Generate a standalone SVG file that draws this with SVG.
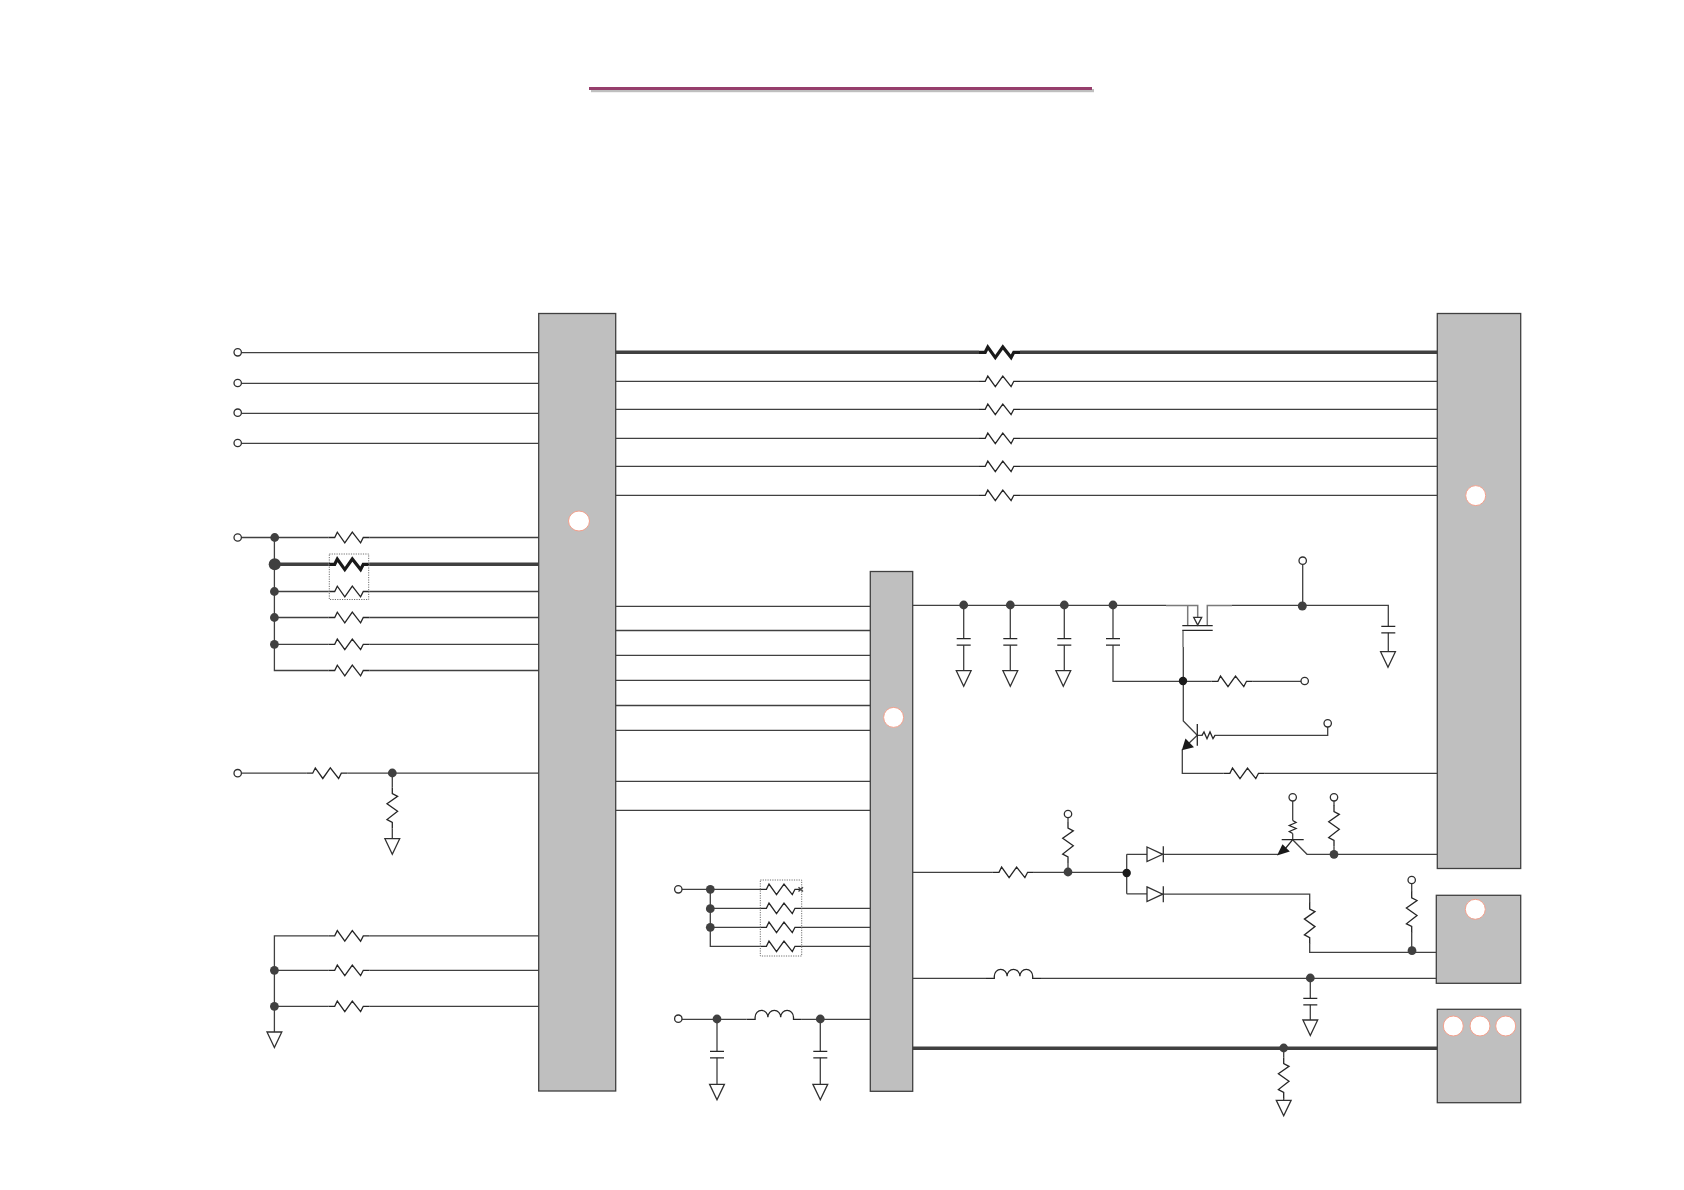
<svg xmlns="http://www.w3.org/2000/svg" width="1684" height="1190" viewBox="0 0 1684 1190">
<style>
.w{fill:none;stroke:#404040;stroke-width:1.3}
.t{fill:none;stroke:#404040;stroke-width:3.4}
.g{fill:none;stroke:#7a7a7a;stroke-width:1.5}
.b{fill:#bfbfbf;stroke:#404040;stroke-width:1.3}
.l{fill:#fff;stroke:#f4a08c;stroke-width:1}
.h{fill:#fff;stroke:#303030;stroke-width:1.3}
.d{fill:#404040}
.k{fill:#1a1a1a}
.s{fill:none;stroke:#262626;stroke-width:1.3;stroke-linejoin:miter}
.st{fill:none;stroke:#1a1a1a;stroke-width:3.2}
.box{fill:none;stroke:#707070;stroke-width:1;stroke-dasharray:1.2 1.2}
</style>
<defs>
<path id="res" d="M-20.5,0H-14.3L-11.7,-5.3L-4.2,5.3L3.3,-5.3L11.6,5.3L14.3,0H20.5"/>
<path id="rsm" d="M-7,0L-5,-3.4L-2,3.4L1,-3.4L4,3.4L6,0"/>
<path id="ind" d="M-27.5,0H-19.2V-2A6.4,7 0 0 1 -6.4,-2A6.4,7 0 0 1 6.4,-2A6.4,7 0 0 1 19.2,-2V0H27.5"/>
<path id="cap" d="M-7,0H7M-7,6.5H7"/>
<path id="gnd" d="M-7.4,0H7.4L0,15.5Z"/>
<path id="dio" d="M0,-7.3L15.7,0L0,7.3ZM16.3,-8V8"/>
</defs>
<rect width="1684" height="1190" fill="#fff"/>
<g id="title-rule">
<rect x="591" y="89" width="503" height="3.2" fill="#bfbfbf"/>
<rect x="589" y="87" width="503" height="3" fill="#963e6c"/>
</g>
<g id="connectors">
<path class="w" d="M241.4,352.7H539M241.4,383.3H539M241.4,413.3H539M241.4,443.3H539"/>
<path class="t" d="M616,352.3H979M1020,352.3H1437"/>
<path class="w" d="M616,381.3H979M1020,381.3H1437M616,409.3H979M1020,409.3H1437M616,438.3H979M1020,438.3H1437M616,466.3H979M1020,466.3H1437M616,495.3H979M1020,495.3H1437"/>
<path class="w" d="M241.4,537.5H328.5M369.5,537.5H539M274.4,537.5V670.5H328.5M369.5,670.5H539M274.4,591.5H328.5M369.5,591.5H539M274.4,617.5H328.5M369.5,617.5H539M274.4,644.3H328.5M369.5,644.3H539"/>
<path class="t" d="M274.4,564.3H328.5M369.5,564.3H539"/>
<path class="w" d="M241.4,773.2H306.5M347.5,773.2H539M392.3,773.2V787.5M392.3,828.5V838.7"/>
<path class="w" d="M274.4,1032V935.9H328.5M369.5,935.9H539M274.4,970.3H328.5M369.5,970.3H539M274.4,1006.3H328.5M369.5,1006.3H539"/>
<path class="w" d="M616,606.4H870M616,630.5H870M616,655.4H870M616,680.3H870M616,705.5H870M616,730.4H870M616,781.3H870M616,810.4H870"/>
<path class="w" d="M682,889.3H760.2M710.3,889.3V946.3H760.2M710.3,908.3H760.2M710.3,927.3H760.2M801.2,908.3H870M801.2,927.3H870M801.2,946.3H870"/>
<path class="w" d="M682,1019.3H746.7M802,1019.3H870M717,1019.3V1051.3M717,1057.8V1084.3M820.3,1019.3V1051.3M820.3,1057.8V1084.3"/>
<path class="w" d="M912.7,605.3H1166M1232,605.3H1388.3V626.3M1388.3,632.8V651.7M1302.7,564.4V605.3"/>
<path class="w" d="M963.7,605.3V638.7M963.7,645.2V670.7M1010.3,605.3V638.7M1010.3,645.2V670.7M1064.3,605.3V638.7M1064.3,645.2V670.7M1113,605.3V638.7M1113,645.2V681.3H1211.7M1252.7,681.3H1301"/>
<path class="g" d="M1166,605.5H1187.7V625M1187.7,605.5H1197.7V618M1207.3,625V605.5H1232M1183,630.5V647"/>
<path class="w" d="M1183.3,647V721L1197.3,735.3L1186,746M1182.3,749.3V773.3H1223.7M1264.7,773.3H1437M1197.3,735.3H1202.5M1214.5,735.3H1327.7V727"/>
<path class="w" d="M912.7,872.3H992.8M1033.8,872.3H1126.7M1068,817.7V822M1068,863V872.3M1126.7,854.3V893.8M1126.7,854.3H1147M1126.7,893.8H1147"/>
<path class="w" d="M1163.3,854.3H1278M1292.7,839.7L1307,854.3H1437M1292.7,801V820.5M1292.7,833.5V839.7M1334,801V806M1334,846.5V854.3"/>
<path class="w" d="M1163.3,894.2H1309.7V903M1309.7,943.6V952.3H1436.3M1411.7,883.7V892M1411.7,932.5V951"/>
<path class="w" d="M912.7,978.3H986M1041,978.3H1436.3M1310.3,978.3V998.3M1310.3,1004.8V1020"/>
<path class="t" d="M912.7,1048.3H1437"/>
<path class="w" d="M1283.7,1048.3V1057.5M1283.7,1098.3V1100.3"/>
</g>
<g id="block-a"><rect class="b" x="538.7" y="313.5" width="77" height="777.5"/><ellipse class="l" cx="579" cy="521" rx="10.5" ry="10"/></g>
<g id="block-b"><rect class="b" x="870.3" y="571.5" width="42.4" height="519.8"/><circle class="l" cx="893.6" cy="717.4" r="10"/></g>
<g id="block-c"><rect class="b" x="1437.3" y="313.5" width="83.4" height="555"/><circle class="l" cx="1475.7" cy="495.6" r="10"/></g>
<g id="block-d"><rect class="b" x="1436.3" y="895.3" width="84.4" height="88"/><circle class="l" cx="1475.3" cy="909.3" r="10"/></g>
<g id="block-e"><rect class="b" x="1437.3" y="1009.3" width="83.4" height="93.4"/><circle class="l" cx="1453.3" cy="1026" r="10"/><circle class="l" cx="1480" cy="1026" r="10"/><circle class="l" cx="1505.7" cy="1026" r="10"/></g>
<g id="bus-resistors">
<use href="#res" class="st" x="999.5" y="352.3"/>
<use href="#res" class="s" x="999.5" y="381.3"/>
<use href="#res" class="s" x="999.5" y="409.3"/>
<use href="#res" class="s" x="999.5" y="438.3"/>
<use href="#res" class="s" x="999.5" y="466.3"/>
<use href="#res" class="s" x="999.5" y="495.3"/>
</g>
<g id="left-resistors">
<use href="#res" class="s" x="349" y="537.5"/>
<use href="#res" class="st" x="349" y="564.3"/>
<use href="#res" class="s" x="349" y="591.5"/>
<use href="#res" class="s" x="349" y="617.5"/>
<use href="#res" class="s" x="349" y="644.3"/>
<use href="#res" class="s" x="349" y="670.5"/>
<use href="#res" class="s" x="327" y="773.2"/>
<use href="#res" class="s" transform="translate(392.3,808) rotate(90)"/>
<use href="#res" class="s" x="349" y="935.9"/>
<use href="#res" class="s" x="349" y="970.3"/>
<use href="#res" class="s" x="349" y="1006.3"/>
<rect class="box" x="329.3" y="554" width="39.4" height="45.5"/>
</g>
<g id="input-resistors">
<use href="#res" class="s" x="780.7" y="889.3"/>
<use href="#res" class="s" x="780.7" y="908.3"/>
<use href="#res" class="s" x="780.7" y="927.3"/>
<use href="#res" class="s" x="780.7" y="946.3"/>
<path class="w" d="M798.5,887.3L803,891.5M798.5,891.5L803,887.3"/>
<rect class="box" x="760.3" y="880" width="41.4" height="76"/>
</g>
<g id="filter">
<use href="#ind" class="s" x="774.3" y="1019.3"/>
<use href="#cap" class="s" x="717" y="1051.3"/>
<use href="#cap" class="s" x="820.3" y="1051.3"/>
<use href="#gnd" class="h" x="717" y="1084.3"/>
<use href="#gnd" class="h" x="820.3" y="1084.3"/>
</g>
<g id="caps">
<use href="#cap" class="s" x="963.7" y="638.7"/>
<use href="#cap" class="s" x="1010.3" y="638.7"/>
<use href="#cap" class="s" x="1064.3" y="638.7"/>
<use href="#cap" class="s" x="1113" y="638.7"/>
<use href="#gnd" class="h" x="963.7" y="670.7"/>
<use href="#gnd" class="h" x="1010.3" y="670.7"/>
<use href="#gnd" class="h" x="1063.3" y="670.7"/>
<use href="#cap" class="s" x="1388.3" y="626.3"/>
<use href="#gnd" class="h" x="1388" y="651.7"/>
</g>
<g id="mosfet">
<path class="s" d="M1182.3,625.7H1212.7M1182.3,630.3H1212.7"/>
<path class="h" d="M1193.7,617.3H1201.7L1197.7,625Z"/>
</g>
<g id="q1">
<path class="s" d="M1197.3,724V745.7"/>
<path class="k" d="M1181.8,750.3L1185.5,738.5L1194,747.2Z"/>
<use href="#rsm" class="s" x="1209" y="735.3"/>
<use href="#res" class="s" x="1232.2" y="681.3"/>
<use href="#res" class="s" x="1244.2" y="773.3"/>
</g>
<g id="q2">
<path class="s" d="M1281.7,839.7H1303.7M1292.7,839.7L1285,849"/>
<path class="k" d="M1277,855.4L1282.5,844.3L1289.8,851.6Z"/>
<use href="#rsm" class="s" transform="translate(1292.7,827.5) rotate(90)"/>
<use href="#res" class="s" transform="translate(1334,826) rotate(90)"/>
</g>
<g id="drivers">
<use href="#res" class="s" x="1013.3" y="872.3"/>
<use href="#res" class="s" transform="translate(1068,842.5) rotate(90)"/>
<use href="#dio" class="h" x="1147" y="854.3"/>
<use href="#dio" class="h" x="1147" y="894.2"/>
<use href="#res" class="s" transform="translate(1309.7,923.3) rotate(90)"/>
<use href="#res" class="s" transform="translate(1411.7,912.2) rotate(90)"/>
<use href="#ind" class="s" x="1013.5" y="978.3"/>
<use href="#cap" class="s" x="1310.3" y="998.3"/>
<use href="#gnd" class="h" x="1310.3" y="1020"/>
<use href="#res" class="s" transform="translate(1283.7,1078) rotate(90)"/>
<use href="#gnd" class="h" x="1283.7" y="1100.3"/>
<use href="#gnd" class="h" x="392.3" y="838.7"/>
<use href="#gnd" class="h" x="274.4" y="1032"/>
</g>
<g id="terminals">
<circle class="h" cx="237.7" cy="352.3" r="3.7"/>
<circle class="h" cx="237.7" cy="383" r="3.7"/>
<circle class="h" cx="237.7" cy="412.7" r="3.7"/>
<circle class="h" cx="237.7" cy="443" r="3.7"/>
<circle class="h" cx="237.7" cy="537.5" r="3.7"/>
<circle class="h" cx="237.7" cy="773.2" r="3.7"/>
<circle class="h" cx="678.3" cy="889.3" r="3.7"/>
<circle class="h" cx="678.3" cy="1018.7" r="3.7"/>
<circle class="h" cx="1302.7" cy="560.7" r="3.7"/>
<circle class="h" cx="1304.7" cy="681" r="3.7"/>
<circle class="h" cx="1327.7" cy="723.3" r="3.7"/>
<circle class="h" cx="1068" cy="814" r="3.7"/>
<circle class="h" cx="1292.7" cy="797.3" r="3.7"/>
<circle class="h" cx="1334" cy="797.3" r="3.7"/>
<circle class="h" cx="1411.7" cy="880" r="3.7"/>
</g>
<g id="junctions">
<circle class="d" cx="274.7" cy="537.5" r="4.4"/>
<circle class="d" cx="274.7" cy="564.3" r="6"/>
<circle class="d" cx="274.4" cy="591.5" r="4.4"/>
<circle class="d" cx="274.4" cy="617.5" r="4.4"/>
<circle class="d" cx="274.4" cy="644.3" r="4.4"/>
<circle class="d" cx="392.3" cy="773" r="4.4"/>
<circle class="d" cx="274.4" cy="970.3" r="4.4"/>
<circle class="d" cx="274.4" cy="1006.3" r="4.4"/>
<circle class="d" cx="710.3" cy="889.3" r="4.4"/>
<circle class="d" cx="710.3" cy="908.7" r="4.4"/>
<circle class="d" cx="710.3" cy="927.3" r="4.4"/>
<circle class="d" cx="717" cy="1019" r="4.4"/>
<circle class="d" cx="820.3" cy="1019" r="4.4"/>
<circle class="d" cx="963.7" cy="605" r="4.4"/>
<circle class="d" cx="1010.3" cy="605" r="4.4"/>
<circle class="d" cx="1064.3" cy="605" r="4.4"/>
<circle class="d" cx="1113" cy="605" r="4.4"/>
<circle class="d" cx="1302.3" cy="606" r="4.5"/>
<circle class="k" cx="1183" cy="681" r="4.2"/>
<circle class="d" cx="1068" cy="872" r="4.4"/>
<circle class="k" cx="1126.7" cy="873" r="4.2"/>
<circle class="d" cx="1334" cy="854.3" r="4.4"/>
<circle class="d" cx="1412" cy="950.7" r="4.4"/>
<circle class="d" cx="1310.3" cy="978" r="4.4"/>
<circle class="d" cx="1283.7" cy="1048" r="4.4"/>
</g>
</svg>
